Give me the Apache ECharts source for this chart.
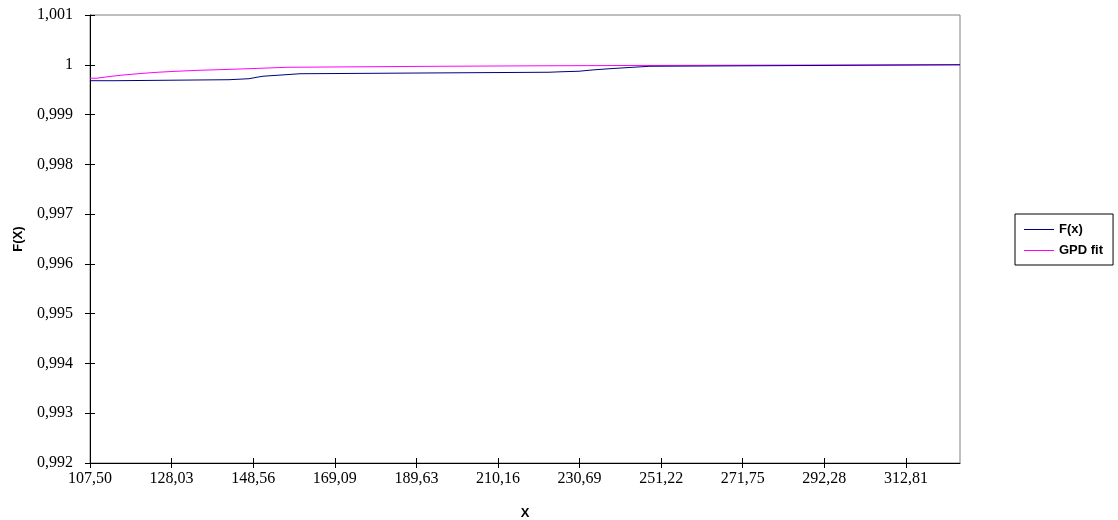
<!DOCTYPE html>
<html>
<head>
<meta charset="utf-8">
<script src="https://cdn.jsdelivr.net/npm/echarts@6/dist/echarts.min.js"></script>
<style>
html,body{margin:0;padding:0;background:#fff;}
#chart{width:1118px;height:520px;}
</style>
</head>
<body>
<div id="chart"></div>
<script>
// X tick labels (category-style axis labels from the original chart)
var xTicks = [107.50, 128.03, 148.56, 169.09, 189.63, 210.16, 230.69, 251.22, 271.75, 292.28, 312.81];
var xMin = 107.50;
var xMax = 326.42;

// Empirical distribution F(x): x where a step starts, and its value
var fxX = [107.50, 113.79, 142.48, 147.51, 149.52, 151.03, 154.81, 160.34, 223.00, 226.27, 230.55, 233.07, 234.58, 238.10, 244.14, 248.40, 326.42];
var fxY = [0.99968, 0.99970, 0.99972, 0.99975, 0.99977, 0.99979, 0.99982, 0.99985, 0.99986, 0.99987, 0.99989, 0.99990, 0.99992, 0.99995, 0.99997, 1.00000, 1.00000];

// GPD fit
var gpdX = [107.50, 109.26, 111.02, 113.04, 115.30, 118.07, 121.09, 124.61, 129.39, 135.18, 143.48, 157.32, 195.57, 221.99, 261.00, 326.42];
var gpdY = [0.99973, 0.99975, 0.99977, 0.99979, 0.99981, 0.99983, 0.99985, 0.99987, 0.99989, 0.99991, 0.99995, 0.99997, 0.99998, 0.99999, 1.00000, 1.00000];

var seriesNames = ['F(x)', 'GPD fit'];

function pairs(xs, ys) { return xs.map(function (x, i) { return [x, ys[i]]; }); }
function fmtX(v) { return Number(v).toFixed(2).replace('.', ','); }
function fmtY(v) { return String(parseFloat(Number(v).toFixed(3))).replace('.', ','); }

var serifFont = '"Liberation Serif", "Times New Roman", serif';
var sansFont = '"Liberation Sans", Arial, sans-serif';

var chart = echarts.init(document.getElementById('chart'), null, {renderer: 'canvas'});
chart.setOption({
  animation: false,
  backgroundColor: '#ffffff',
  grid: {
    left: 90, right: 158, top: 15, bottom: 57,
    outerBoundsMode: 'none', containLabel: false,
    show: true, borderColor: '#808080', borderWidth: 1, backgroundColor: 'transparent'
  },
  legend: {
    orient: 'vertical',
    left: 1015, top: 214,
    padding: [9, 10, 8, 9],
    borderColor: '#000', borderWidth: 1,
    backgroundColor: '#fff',
    icon: 'rect',
    itemWidth: 30, itemHeight: 1,
    itemGap: 8,
    textStyle: {fontFamily: sansFont, fontSize: 13, fontWeight: 'bold', color: '#000'},
    data: seriesNames
  },
  xAxis: [{
    type: 'value', min: xMin, max: xMax,
    name: 'X', nameLocation: 'middle', nameGap: 44,
    nameTextStyle: {fontFamily: sansFont, fontSize: 13, fontWeight: 'bold', color: '#000'},
    axisLine: {show: true, lineStyle: {color: '#000', width: 1}},
    axisTick: {show: true, length: 5, inside: false, customValues: xTicks, lineStyle: {color: '#000'}},
    axisLabel: {customValues: xTicks, formatter: fmtX, fontFamily: serifFont, fontSize: 16, color: '#000', margin: 8},
    splitLine: {show: false}
  }, {
    type: 'value', min: xMin, max: xMax, position: 'bottom',
    axisLine: {show: false},
    axisTick: {show: true, length: 5, inside: true, customValues: xTicks, lineStyle: {color: '#000'}},
    axisLabel: {show: false},
    splitLine: {show: false}
  }],
  yAxis: [{
    type: 'value', min: 0.992, max: 1.001, interval: 0.001,
    name: 'F(X)', nameLocation: 'middle', nameGap: 65, nameRotate: 90,
    nameTextStyle: {fontFamily: sansFont, fontSize: 13, fontWeight: 'bold', color: '#000'},
    axisLine: {show: true, lineStyle: {color: '#000', width: 1}},
    axisTick: {show: true, length: 5, inside: false, lineStyle: {color: '#000'}},
    axisLabel: {formatter: fmtY, fontFamily: serifFont, fontSize: 16, color: '#000', margin: 17},
    splitLine: {show: false}
  }, {
    type: 'value', min: 0.992, max: 1.001, interval: 0.001, position: 'left',
    axisLine: {show: false},
    axisTick: {show: true, length: 5, inside: true, lineStyle: {color: '#000'}},
    axisLabel: {show: false},
    splitLine: {show: false}
  }],
  series: [{
    name: seriesNames[0], type: 'line', step: 'end',
    xAxisIndex: 0, yAxisIndex: 0,
    showSymbol: false, symbol: 'none',
    lineStyle: {color: '#000080', width: 1},
    itemStyle: {color: '#000080'},
    data: pairs(fxX, fxY), z: 3
  }, {
    name: seriesNames[1], type: 'line', step: 'end',
    xAxisIndex: 0, yAxisIndex: 0,
    showSymbol: false, symbol: 'none',
    lineStyle: {color: '#ff00ff', width: 1},
    itemStyle: {color: '#ff00ff'},
    data: pairs(gpdX, gpdY), z: 2
  }]
});
</script>
</body>
</html>
